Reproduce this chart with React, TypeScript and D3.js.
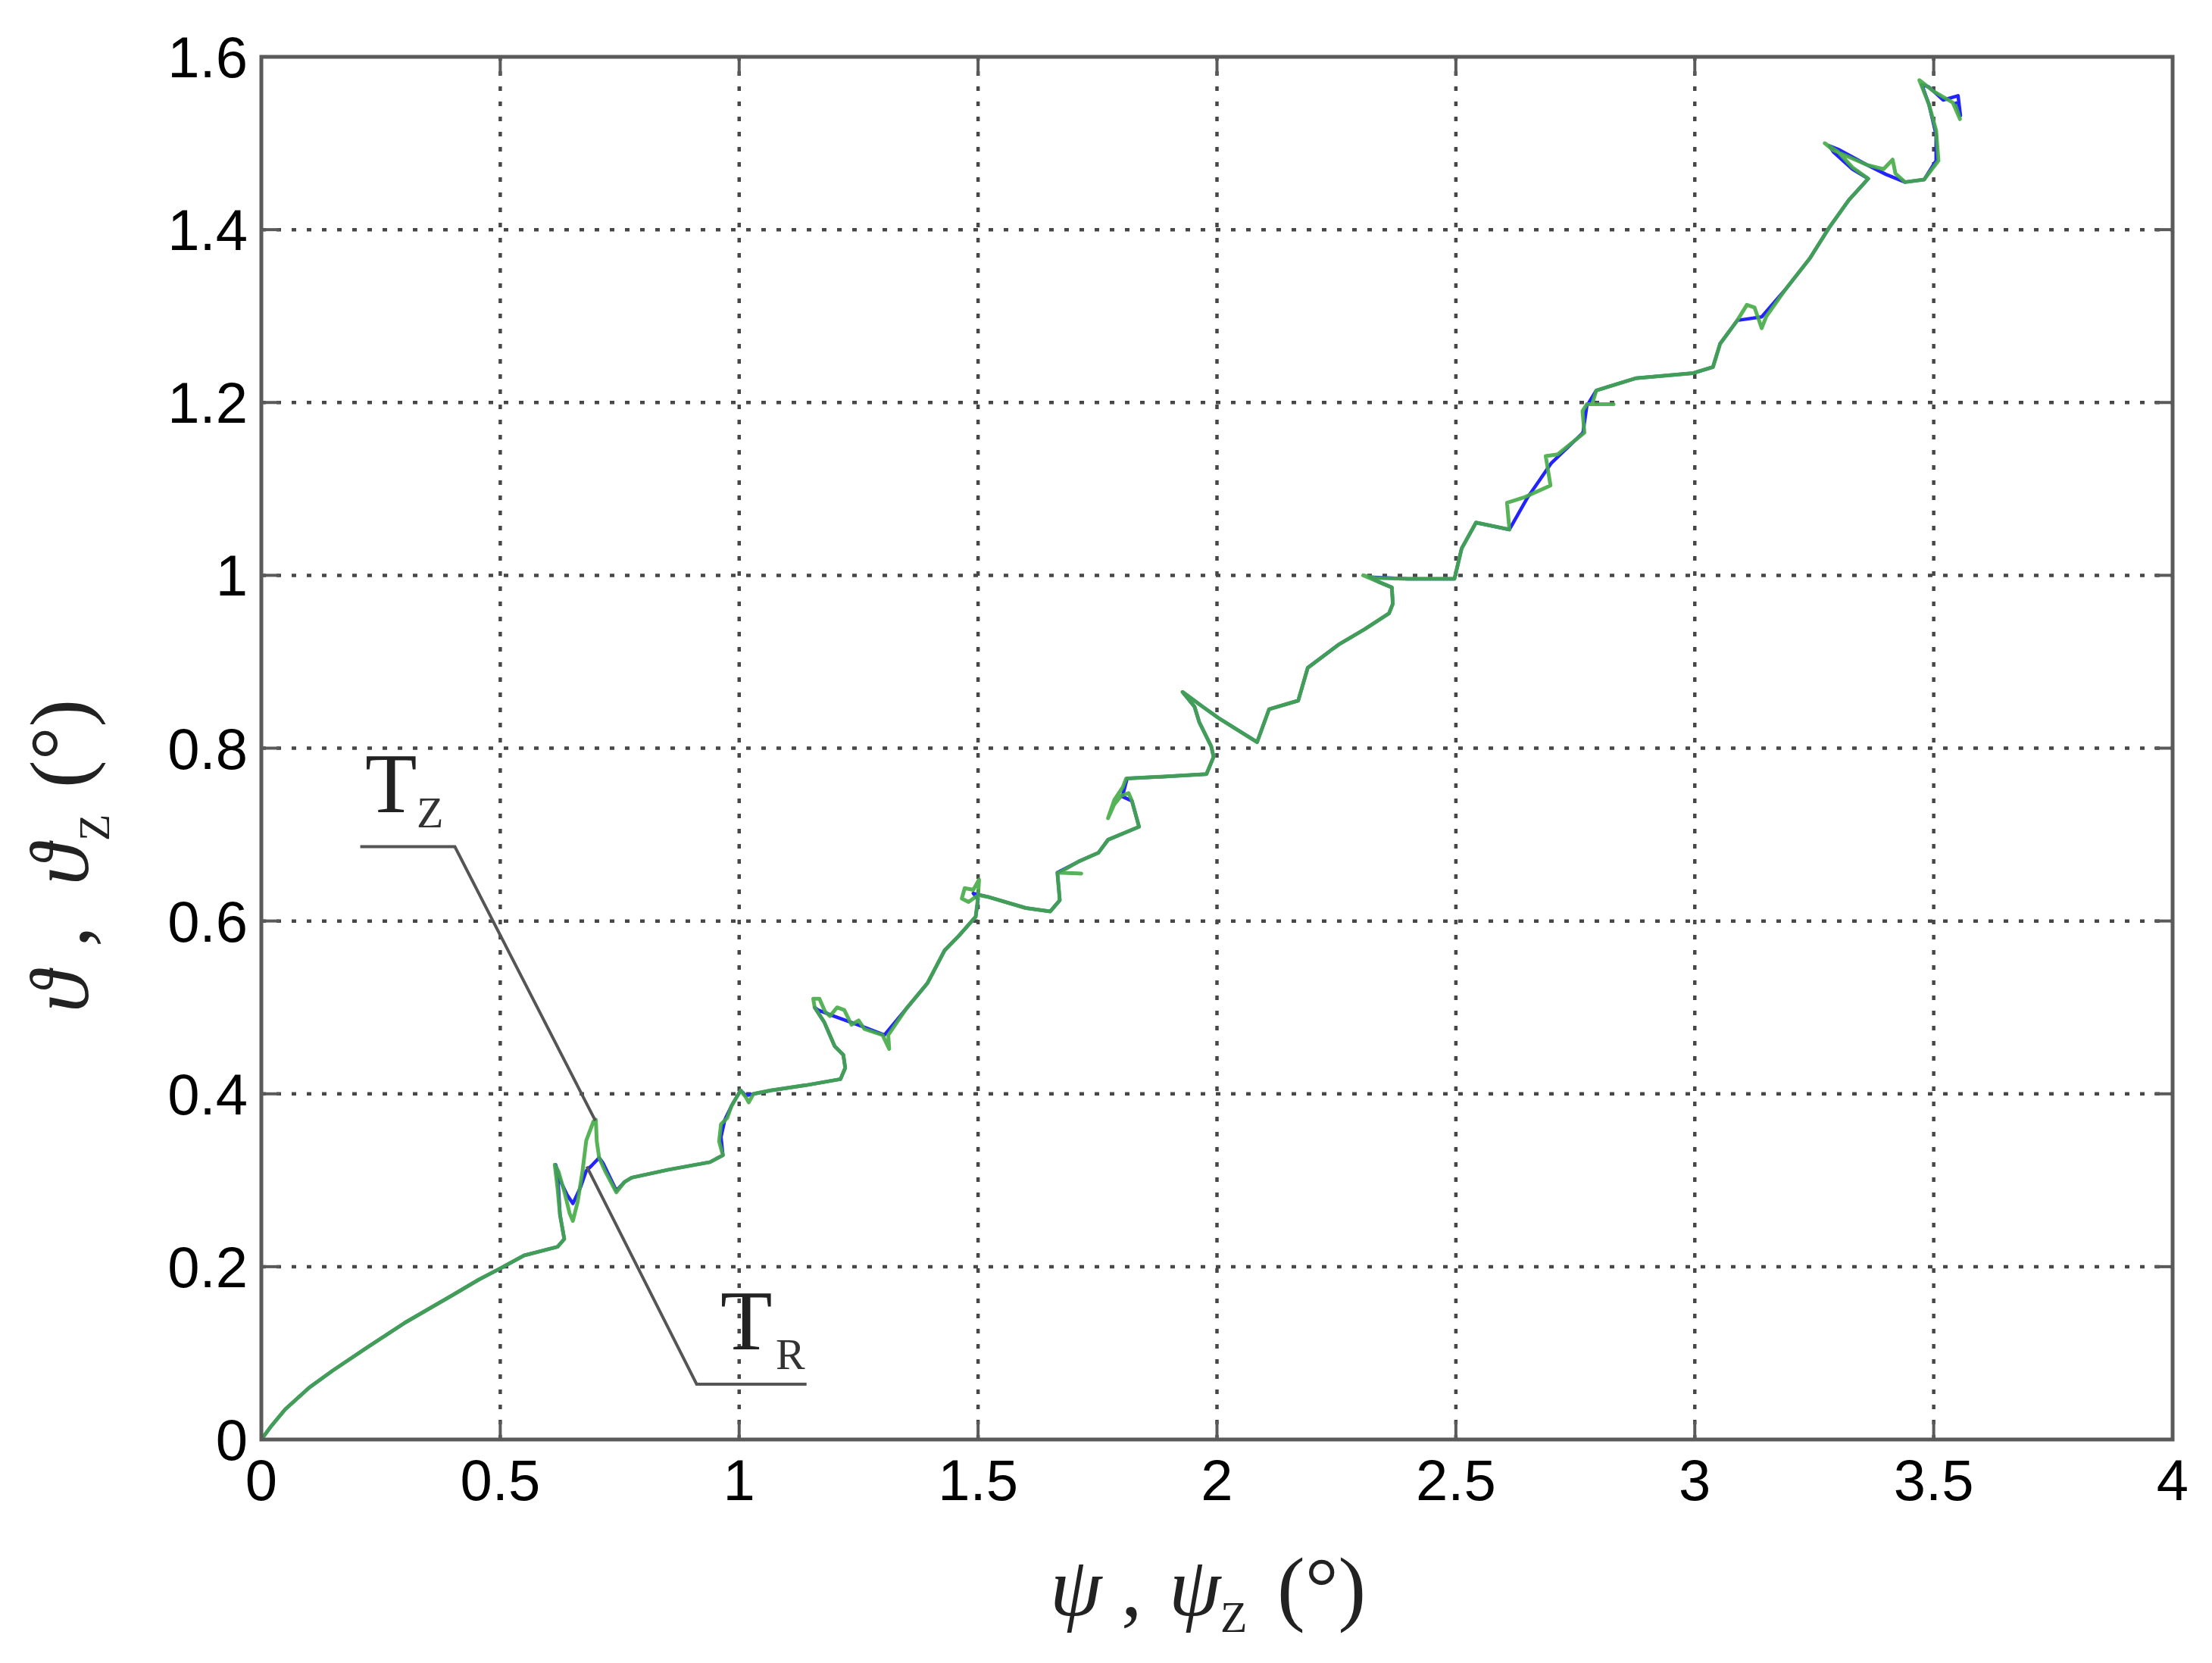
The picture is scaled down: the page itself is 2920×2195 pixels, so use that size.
import React from "react";
import * as d3 from "d3";

// ---------- data ----------
const xTicks = [0, 0.5, 1, 1.5, 2, 2.5, 3, 3.5, 4];
const yTicks = [0, 0.2, 0.4, 0.6, 0.8, 1, 1.2, 1.4, 1.6];

// T_R trajectory (blue)
const blueX = [0, 0.02, 0.05, 0.1, 0.15, 0.22, 0.3, 0.4, 0.455, 0.5, 0.55, 0.62, 0.634, 0.625, 0.622, 0.616, 0.625, 0.64, 0.652, 0.668, 0.68, 0.693, 0.707, 0.715, 0.743, 0.76, 0.775, 0.85, 0.939, 0.966, 0.962, 0.97, 0.984, 1.003, 1.014, 1.066, 1.14, 1.212, 1.222, 1.218, 1.2, 1.178, 1.158, 1.165, 1.198, 1.258, 1.304, 1.349, 1.394, 1.43, 1.46, 1.495, 1.5, 1.49, 1.52, 1.6, 1.651, 1.671, 1.666, 1.711, 1.752, 1.772, 1.837, 1.822, 1.802, 1.812, 1.883, 1.978, 1.993, 1.988, 1.963, 1.953, 1.928, 1.97, 2.003, 2.084, 2.109, 2.17, 2.19, 2.255, 2.31, 2.36, 2.368, 2.366, 2.336, 2.32, 2.4, 2.497, 2.512, 2.542, 2.612, 2.65, 2.7, 2.766, 2.774, 2.794, 2.876, 2.997, 3.038, 3.053, 3.089, 3.14, 3.19, 3.241, 3.282, 3.322, 3.363, 3.33, 3.29, 3.282, 3.3, 3.36, 3.4, 3.44, 3.48, 3.505, 3.505, 3.49, 3.475, 3.49, 3.52, 3.551, 3.556, 3.545];
const blueY = [0, 0.015, 0.035, 0.06, 0.08, 0.106, 0.135, 0.167, 0.185, 0.198, 0.213, 0.223, 0.232, 0.26, 0.29, 0.318, 0.3, 0.283, 0.273, 0.292, 0.311, 0.318, 0.326, 0.32, 0.288, 0.298, 0.303, 0.312, 0.321, 0.329, 0.35, 0.37, 0.386, 0.404, 0.398, 0.404, 0.41, 0.417, 0.43, 0.445, 0.455, 0.483, 0.5, 0.497, 0.49, 0.478, 0.468, 0.498, 0.528, 0.566, 0.583, 0.605, 0.625, 0.632, 0.628, 0.615, 0.611, 0.624, 0.656, 0.669, 0.679, 0.694, 0.709, 0.739, 0.744, 0.765, 0.767, 0.77, 0.79, 0.802, 0.83, 0.848, 0.865, 0.848, 0.835, 0.807, 0.845, 0.855, 0.893, 0.92, 0.938, 0.956, 0.967, 0.986, 0.993, 0.998, 0.996, 0.996, 1.031, 1.061, 1.053, 1.09, 1.13, 1.165, 1.196, 1.214, 1.228, 1.234, 1.241, 1.268, 1.295, 1.299, 1.331, 1.367, 1.403, 1.434, 1.459, 1.47, 1.49, 1.497, 1.493, 1.475, 1.464, 1.455, 1.458, 1.48, 1.51, 1.545, 1.568, 1.565, 1.55, 1.555, 1.532, 1.548];

// T_Z trajectory (green)
const greenX = [0, 0.02, 0.05, 0.1, 0.15, 0.22, 0.3, 0.4, 0.455, 0.5, 0.55, 0.62, 0.634, 0.625, 0.62, 0.614, 0.622, 0.635, 0.645, 0.652, 0.662, 0.672, 0.68, 0.695, 0.7, 0.702, 0.707, 0.72, 0.743, 0.76, 0.775, 0.85, 0.939, 0.966, 0.958, 0.962, 0.975, 0.984, 1.003, 1.014, 1.02, 1.03, 1.066, 1.14, 1.212, 1.222, 1.218, 1.2, 1.178, 1.158, 1.155, 1.168, 1.18, 1.19, 1.205, 1.22, 1.235, 1.25, 1.262, 1.3, 1.314, 1.312, 1.349, 1.394, 1.43, 1.46, 1.495, 1.5, 1.502, 1.49, 1.472, 1.466, 1.48, 1.5, 1.52, 1.6, 1.651, 1.671, 1.666, 1.716, 1.67, 1.711, 1.752, 1.772, 1.837, 1.822, 1.815, 1.8, 1.785, 1.772, 1.785, 1.803, 1.81, 1.883, 1.978, 1.993, 1.988, 1.963, 1.953, 1.928, 1.97, 2.003, 2.084, 2.109, 2.17, 2.19, 2.255, 2.31, 2.36, 2.368, 2.366, 2.336, 2.306, 2.33, 2.4, 2.497, 2.512, 2.542, 2.612, 2.607, 2.642, 2.698, 2.688, 2.713, 2.769, 2.765, 2.774, 2.83, 2.785, 2.794, 2.876, 2.997, 3.038, 3.053, 3.089, 3.109, 3.125, 3.14, 3.15, 3.19, 3.241, 3.282, 3.322, 3.363, 3.33, 3.3, 3.272, 3.29, 3.36, 3.395, 3.414, 3.42, 3.44, 3.48, 3.51, 3.505, 3.49, 3.47, 3.5, 3.54, 3.555, 3.545];
const greenY = [0, 0.015, 0.035, 0.06, 0.08, 0.106, 0.135, 0.167, 0.185, 0.198, 0.213, 0.223, 0.232, 0.26, 0.29, 0.318, 0.31, 0.285, 0.262, 0.253, 0.275, 0.31, 0.346, 0.368, 0.37, 0.345, 0.326, 0.31, 0.286, 0.298, 0.303, 0.312, 0.321, 0.329, 0.345, 0.365, 0.372, 0.386, 0.404, 0.396, 0.39, 0.4, 0.404, 0.41, 0.417, 0.43, 0.445, 0.455, 0.483, 0.5, 0.51, 0.51, 0.495, 0.49, 0.5, 0.497, 0.48, 0.485, 0.475, 0.468, 0.452, 0.468, 0.498, 0.528, 0.566, 0.583, 0.605, 0.628, 0.648, 0.636, 0.638, 0.626, 0.622, 0.63, 0.628, 0.615, 0.611, 0.624, 0.656, 0.655, 0.656, 0.669, 0.679, 0.694, 0.709, 0.739, 0.748, 0.745, 0.735, 0.719, 0.74, 0.755, 0.765, 0.767, 0.77, 0.79, 0.802, 0.83, 0.848, 0.865, 0.848, 0.835, 0.807, 0.845, 0.855, 0.893, 0.92, 0.938, 0.956, 0.967, 0.986, 0.993, 1.0, 0.997, 0.996, 0.996, 1.031, 1.061, 1.053, 1.084, 1.09, 1.104, 1.138, 1.14, 1.165, 1.19, 1.198, 1.198, 1.198, 1.214, 1.228, 1.234, 1.241, 1.268, 1.295, 1.313, 1.31, 1.286, 1.3, 1.331, 1.367, 1.403, 1.434, 1.459, 1.472, 1.49, 1.5, 1.492, 1.475, 1.47, 1.481, 1.465, 1.455, 1.458, 1.48, 1.515, 1.545, 1.573, 1.56, 1.547, 1.528, 1.545];

// annotation leader lines (data coordinates)
const leaderTzX = [0.207, 0.405, 0.699];
const leaderTzY = [0.686, 0.686, 0.369];
const leaderTrX = [0.681, 0.911, 1.141];
const leaderTrY = [0.316, 0.064, 0.064];

// ---------- layout ----------
const W = 2920;
const H = 2195;
const L = 345, R = 2868, T = 75, B = 1900;

const x = d3.scaleLinear().domain([0, 4]).range([L, R]);
const y = d3.scaleLinear().domain([0, 1.6]).range([B, T]);

const zip = (xs: number[], ys: number[]) => xs.map((v, i) => [v, ys[i]] as [number, number]);
const line = d3.line<[number, number]>().x(d => x(d[0])).y(d => y(d[1]));

const fmt = (v: number) => (v === 0 ? "0" : String(v));

const SANS = "'Liberation Sans', Arial, sans-serif";
const SERIF = "'Liberation Serif', 'Times New Roman', 'DejaVu Serif', serif";
const GRID = "#474747";
const FRAME = "#5a5a5a";

export default function App() {
  const tick = 24;
  return (
    <svg width={W} height={H} style={{ position: "absolute", left: 0, top: 0, background: "#fff" }}>
      <rect x={0} y={0} width={W} height={H} fill="#fff" />
      {/* grid */}
      {xTicks.slice(1, -1).map(v => (
        <line key={"gx" + v} x1={x(v)} x2={x(v)} y1={B} y2={T} stroke={GRID} strokeWidth={4.5} strokeDasharray="6,14" />
      ))}
      {yTicks.slice(1, -1).map(v => (
        <line key={"gy" + v} x1={L} x2={R} y1={y(v)} y2={y(v)} stroke={GRID} strokeWidth={4.5} strokeDasharray="6,14" />
      ))}
      {/* ticks */}
      {xTicks.map(v => (
        <g key={"tx" + v}>
          <line x1={x(v)} x2={x(v)} y1={B} y2={B - tick} stroke={FRAME} strokeWidth={4} />
          <line x1={x(v)} x2={x(v)} y1={T} y2={T + tick} stroke={FRAME} strokeWidth={4} />
        </g>
      ))}
      {yTicks.map(v => (
        <g key={"ty" + v}>
          <line x1={L} x2={L + tick} y1={y(v)} y2={y(v)} stroke={FRAME} strokeWidth={4} />
          <line x1={R} x2={R - tick} y1={y(v)} y2={y(v)} stroke={FRAME} strokeWidth={4} />
        </g>
      ))}
      {/* curves */}
      <path d={line(zip(blueX, blueY)) || ""} fill="none" stroke="#2323ff" strokeWidth={4.5} strokeLinejoin="round" />
      <path d={line(zip(greenX, greenY)) || ""} fill="none" stroke="#45ab45" strokeWidth={5} strokeOpacity={0.9} strokeLinejoin="round" />
      {/* frame */}
      <rect x={L} y={T} width={R - L} height={B - T} fill="none" stroke={FRAME} strokeWidth={5} />
      {/* tick labels */}
      {xTicks.map(v => (
        <text key={"lx" + v} x={x(v)} y={1980} textAnchor="middle" fontFamily={SANS} fontSize={76} fill="#000">{fmt(v)}</text>
      ))}
      {yTicks.map(v => (
        <text key={"ly" + v} x={327} y={y(v) + 27} textAnchor="end" fontFamily={SANS} fontSize={76} fill="#000">{fmt(v)}</text>
      ))}
      {/* leader lines */}
      <path d={line(zip(leaderTzX, leaderTzY)) || ""} fill="none" stroke="#555" strokeWidth={4} />
      <path d={line(zip(leaderTrX, leaderTrY)) || ""} fill="none" stroke="#555" strokeWidth={4} />
      {/* annotation labels */}
      <text x={482} y={1072} fontFamily={SERIF} fontSize={112} fill="#222">T</text>
      <text x={550} y={1092} fontFamily={SERIF} fontSize={58} fill="#333">Z</text>
      <text x={951} y={1781} fontFamily={SERIF} fontSize={112} fill="#222">T</text>
      <text x={1024} y={1807} fontFamily={SERIF} fontSize={58} fill="#333">R</text>
      {/* x axis label */}
      <g fontFamily={SERIF} fontSize={110} fill="#222">
        <text x={1386} y={2132} fontStyle="italic">ψ</text>
        <text x={1480} y={2132}>,</text>
        <text x={1543} y={2132} fontStyle="italic">ψ</text>
        <text x={1611} y={2154} fontSize={58}>Z</text>
        <text x={1686} y={2132}>(°)</text>
      </g>
      {/* y axis label */}
      <g fontFamily={SERIF} fontSize={110} fill="#222">
        <text transform={`translate(116,1336) rotate(-90)`} fontStyle="italic">ϑ</text>
        <text transform={`translate(116,1250) rotate(-90)`}>,</text>
        <text transform={`translate(116,1168) rotate(-90)`} fontStyle="italic">ϑ</text>
        <text transform={`translate(144,1110) rotate(-90)`} fontSize={58}>Z</text>
        <text transform={`translate(116,1040) rotate(-90)`}>(°)</text>
      </g>
    </svg>
  );
}
